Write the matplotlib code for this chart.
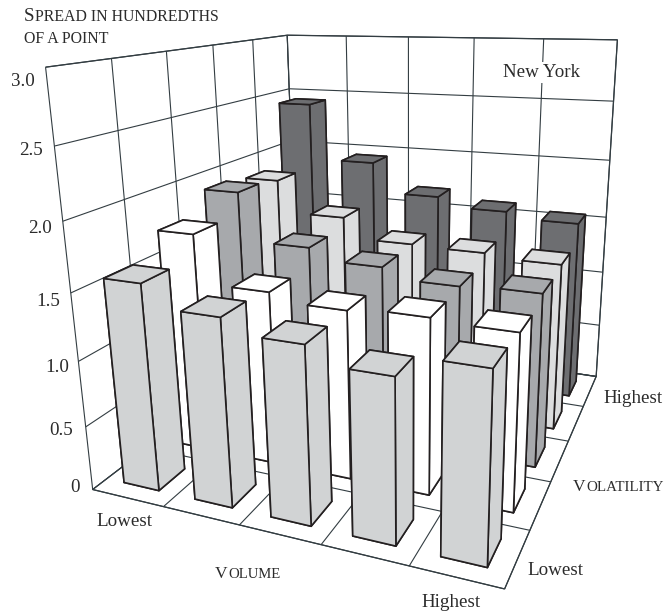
import numpy as np
import matplotlib
matplotlib.use("Agg")
import matplotlib.pyplot as plt

W, H = 665, 614

# spread per volume bucket, one list per volatility bucket (front to back)
vol_lowest = [1.57, 1.41, 1.31, 1.19, 1.34]
vol_low = [1.74, 1.37, 1.31, 1.34, 1.32]
vol_mid = [1.91, 1.52, 1.43, 1.35, 1.37]
vol_high = [1.87, 1.60, 1.43, 1.42, 1.39]
vol_highest = [2.43, 1.94, 1.68, 1.60, 1.55]
rows = [vol_lowest, vol_low, vol_mid, vol_high, vol_highest]
row_colors = ["#d1d3d4", "#ffffff", "#a7a9ac", "#dcddde", "#6d6e71"]
z_labels = ["0", "0.5", "1.0", "1.5", "2.0", "2.5", "3.0"]

edge = "#231f20"
grid = "#333d42"
txt = "#2b2b2b"

plt.rcParams["font.family"] = ["Liberation Serif", "DejaVu Serif"]
plt.rcParams["grid.color"] = grid
plt.rcParams["grid.linewidth"] = 0.8

fig = plt.figure(figsize=(W / 100, H / 100), dpi=100, facecolor="white")
L = 677.7
ax = fig.add_axes([23.7 / W, 15.6 / H, L / W, L / H], projection="3d", computed_zorder=False)
ax.patch.set_visible(False)
ax.view_init(elev=16.61, azim=-67.235, roll=0.707)
ax.set_proj_type("persp", focal_length=0.2509)
ax.set_box_aspect((1.0134, 1.0879, 1))
ax.set_xlim(0, 5)
ax.set_ylim(0, 5)
ax.set_zlim(0, 3)
ax.set_xticks(range(6))
ax.set_yticks(range(6))
ax.set_zticks(np.arange(0, 3.5, 0.5))
ax.set_xticklabels([])
ax.set_yticklabels([])
ax.set_zticklabels([])
ax.tick_params(color="none")
for axis in (ax.xaxis, ax.yaxis, ax.zaxis):
    axis.set_pane_color("white")
    axis.pane.set_edgecolor(grid)
    axis.pane.set_linewidth(0.9)
    axis.line.set_color("none")

# back to front so the nearer bars cover the others
order = 0
for i in range(5):
    for j in range(4, -1, -1):
        ax.bar3d(i + 0.25, j + 0.25, 0, 0.5, 0.5, rows[j][i], color=row_colors[j],
                 edgecolor=edge, linewidth=1.2, shade=False, zorder=5 + order)
        order += 1


def label(x, y, s, size=13.7, **kw):
    return fig.text(x / W, 1 - y / H, s, fontsize=size, color=txt, va="baseline", **kw)


def small_caps(x, y, first, rest, size1=13.7, size2=11.4):
    r = fig.canvas.get_renderer()
    if first:
        t = label(x, y, first, size=size1)
        x = t.get_window_extent(r).x1 + 0.5
    label(x, y, rest, size=size2)


small_caps(24, 21, "S", "PREAD IN HUNDREDTHS")
small_caps(24, 43, "", "OF A POINT")
z_right = [80, 73, 69, 60, 52, 43, 35]
z_base = [492, 435, 372, 306, 233, 155, 86]
for s, xr, yb in zip(z_labels, z_right, z_base):
    label(xr, yb, s, ha="right")
label(96, 526, "Lowest")
small_caps(215, 578, "V", "OLUME", 12.5, 10.6)
label(421, 607, "Highest")
label(527, 575, "Lowest")
label(603, 403, "Highest")
small_caps(573, 491, "V", "OLATILITY", 12.5, 10.8)
label(503, 77, "New York", bbox=dict(facecolor="white", edgecolor="none", pad=1.5))

fig.savefig("out.png", dpi=100)
